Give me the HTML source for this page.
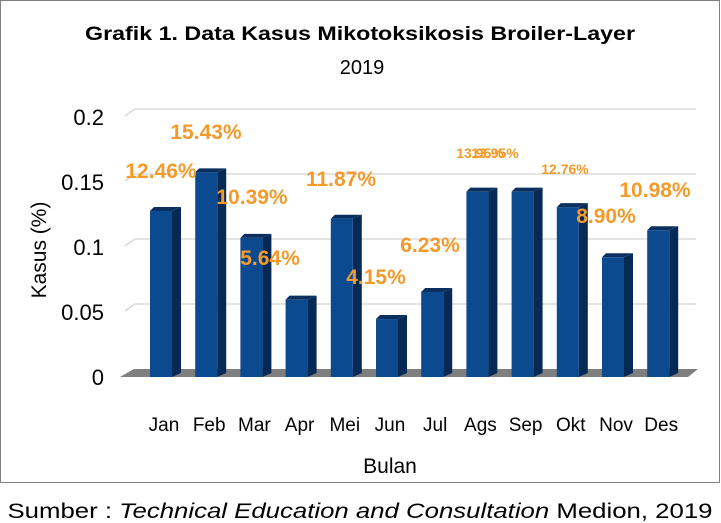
<!DOCTYPE html>
<html><head><meta charset="utf-8"><style>
body{margin:0;background:#fff;}
svg{display:block;font-family:"Liberation Sans",sans-serif;}
</style></head><body>
<svg id="chart" width="721" height="523" viewBox="0 0 721 523">
<rect x="0.5" y="0.5" width="719" height="482" fill="#fff" stroke="#808080"/>
<text x="360" y="40" text-anchor="middle" font-size="19" font-weight="bold" textLength="550" lengthAdjust="spacingAndGlyphs">Grafik 1. Data Kasus Mikotoksikosis Broiler-Layer</text>
<text x="362" y="74" text-anchor="middle" font-size="20">2019</text>
<text transform="translate(46,250) rotate(-90)" text-anchor="middle" font-size="21">Kasus (%)</text>
<text x="390" y="473" text-anchor="middle" font-size="21">Bulan</text>
<text x="360" y="518" text-anchor="middle" font-size="21" textLength="705" lengthAdjust="spacingAndGlyphs">Sumber : <tspan font-style="italic">Technical Education and Consultation</tspan> Medion, 2019</text>
<g id="grid"></g><g id="bars"></g><g id="labels"></g>
</svg>
<script>
const categories=["Jan","Feb","Mar","Apr","Mei","Jun","Jul","Ags","Sep","Okt","Nov","Des"];
const values=[0.1246,0.1543,0.1039,0.0564,0.1187,0.0415,0.0623,0.1395,0.1395,0.1276,0.0890,0.1098];
const valueLabels=["12.46%","15.43%","10.39%","5.64%","11.87%","4.15%","6.23%","13.95%","13.95%","12.76%","8.90%","10.98%"];
const yTicks=[0,0.05,0.1,0.15,0.2];
const yTickLabels=["0","0.05","0.1","0.15","0.2"];
// label layout (pixel placement, not data)
const labelX=[161,206,252,270,341,376,430,480,495,565,606,655];
const labelY=[178,139,204,265,186,284,252,158,158,174,223,197];
const labelSize=[21,21,21,21,21,21,21,14,14,14,21,21];
const NS="http://www.w3.org/2000/svg";
const y=v=>373-v*1300;
const x=i=>150+i*45.2;
function mk(tag,attrs,parent){const e=document.createElementNS(NS,tag);for(const k in attrs)e.setAttribute(k,attrs[k]);parent.appendChild(e);return e;}
const grid=document.getElementById('grid'),bars=document.getElementById('bars'),labels=document.getElementById('labels'),svg=document.getElementById('chart');
// floor
const floor=mk('polygon',{points:"120,377 688,377 698,369 134,369",fill:"#7f7f7f"},grid);


yTicks.forEach((t,i)=>{
 if(t>0){
  const g=mk('polyline',{points:`125,${y(t)+3} 135,${y(t)-4} 696,${y(t)-4}`,fill:"none",stroke:"#c8c8c8","stroke-width":1},grid);
  
  
 }
 const tl=mk('text',{x:104,y:y(t)+12,"text-anchor":"end","font-size":22},svg);
 tl.textContent=yTickLabels[i];
 
 
});
values.forEach((v,i)=>{
 const x0=x(i),top=y(v),w=22,d=9;
 const g=mk('g',{},bars);
 
 
 mk('polygon',{points:`${x0+w},${top} ${x0+w+d},${top-4} ${x0+w+d},373 ${x0+w},377`,fill:"#062a55"},g);
 mk('polygon',{points:`${x0},${top} ${x0+4},${top-4} ${x0+w+d},${top-4} ${x0+w},${top}`,fill:"#0b3060"},g);
 mk('rect',{x:x0,y:top,width:w,height:377-top,fill:"#0b4a8f"},g);
 const xl=mk('text',{x:x0+14,y:431,"text-anchor":"middle","font-size":19},svg);
 xl.textContent=categories[i];
 
 
 const lb=mk('text',{x:labelX[i],y:labelY[i],"text-anchor":"middle","font-size":labelSize[i],"font-weight":"bold",fill:"#f39a2a"},labels);
 lb.textContent=valueLabels[i];
 
 
});
</script>
</body></html>
